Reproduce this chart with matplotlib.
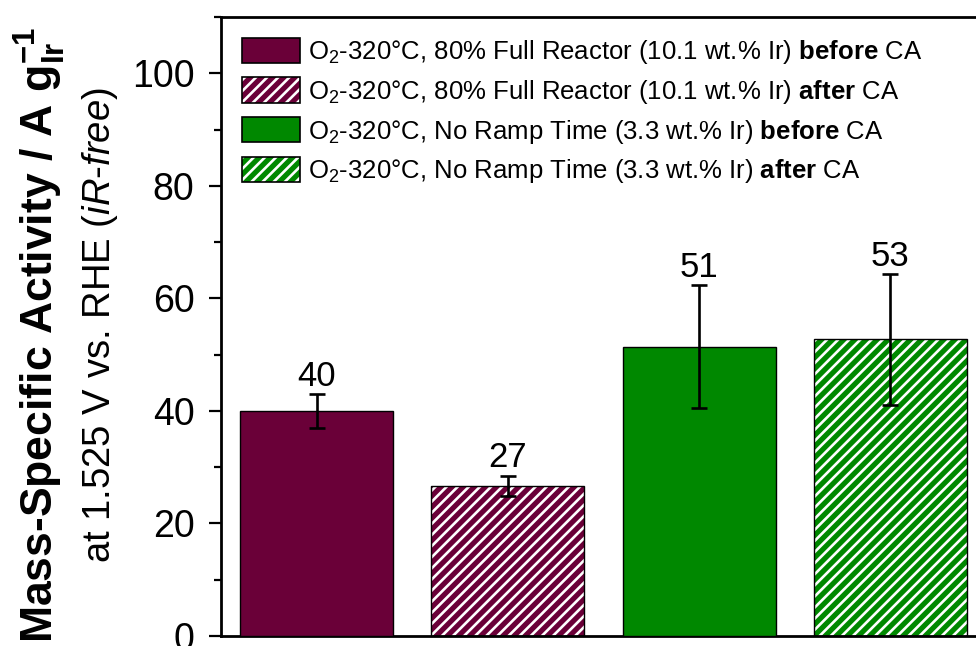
import matplotlib
matplotlib.use("Agg")
import matplotlib.pyplot as plt
import matplotlib.patches as mpatches
from matplotlib.legend_handler import HandlerTuple
from matplotlib.ticker import MultipleLocator

plt.rcParams['font.family'] = ['Liberation Sans', 'DejaVu Sans']
plt.rcParams['mathtext.fontset'] = 'custom'
plt.rcParams['mathtext.rm'] = 'Liberation Sans'
plt.rcParams['mathtext.it'] = 'Liberation Sans:italic'
plt.rcParams['mathtext.bf'] = 'Liberation Sans:bold'
plt.rcParams['hatch.linewidth'] = 1.9

# mass activity at 1.525 V vs RHE, with standard deviation
labels = [
    r'O$_2$-320°C, 80% Full Reactor (10.1 wt.% Ir) $\mathbf{before}$ CA',
    r'O$_2$-320°C, 80% Full Reactor (10.1 wt.% Ir) $\mathbf{after}$ CA',
    r'O$_2$-320°C, No Ramp Time (3.3 wt.% Ir) $\mathbf{before}$ CA',
    r'O$_2$-320°C, No Ramp Time (3.3 wt.% Ir) $\mathbf{after}$ CA',
]
activity = [40.0, 26.7, 51.4, 52.7]
activity_err = [3.0, 1.8, 10.9, 11.6]
colors = ['#6a0038', '#6a0038', '#008800', '#008800']
hatched = [False, True, False, True]

fig = plt.figure(figsize=(9.76, 6.46), dpi=100)
ax = fig.add_axes([221 / 976, 1 - 636 / 646, 765 / 976, 619 / 646])

x = [1, 2, 3, 4]
handles = []
for xi, val, err, col, hat, lab in zip(x, activity, activity_err, colors, hatched, labels):
    if hat:
        # white stripes on the coloured fill, black outline drawn on top
        ax.bar(xi, val, width=0.8, color=col, edgecolor='white', hatch='///', linewidth=0, zorder=2)
        ax.bar(xi, val, width=0.8, fill=False, edgecolor='black', linewidth=1, zorder=3)
        h = (mpatches.Patch(facecolor=col, edgecolor='white', hatch='///', linewidth=0),
             mpatches.Patch(fill=False, edgecolor='black', linewidth=1.2))
    else:
        ax.bar(xi, val, width=0.8, color=col, edgecolor='black', linewidth=1, zorder=3)
        h = mpatches.Patch(facecolor=col, edgecolor='black', linewidth=1.2)
    handles.append(h)
    ax.errorbar(xi, val, yerr=err, fmt='none', ecolor='black', elinewidth=1.9,
                capsize=5.5, capthick=1.9, zorder=4)
    ax.annotate(f'{val:.0f}', xy=(xi, val + err), xytext=(0, 6), textcoords='offset points',
                ha='center', va='baseline', fontsize=25)

ax.set_xlim(0.5, 4.5)
ax.set_ylim(0, 110)
ax.yaxis.set_major_locator(MultipleLocator(20))
ax.yaxis.set_minor_locator(MultipleLocator(10))
ax.tick_params(axis='y', which='major', direction='out', length=9, width=1.6, labelsize=27, pad=10)
ax.tick_params(axis='y', which='minor', direction='out', length=5, width=1.6)
ax.tick_params(axis='x', bottom=False, labelbottom=False)
for s in ax.spines.values():
    s.set_linewidth(2)

ax.legend(handles, labels, loc='upper left', bbox_to_anchor=(0.0, 1.0), frameon=False,
          fontsize=18.5, handlelength=2.27, handleheight=1.13, handletextpad=0.3,
          labelspacing=0.45, borderaxespad=0.5, borderpad=0.3,
          handler_map={tuple: HandlerTuple(ndivide=1, pad=0)})

fig.text(40 / 976, 1 - 335 / 646, r'Mass-Specific Activity / A g$_{\mathbf{Ir}}^{\mathbf{-1}}$',
         rotation=90, ha='center', va='center', fontsize=32, fontweight='bold')
fig.text(100 / 976, 1 - 325 / 646, r'at 1.525 V vs. RHE ($\mathit{iR}$-$\mathit{free}$)',
         rotation=90, ha='center', va='center', fontsize=27.5)

fig.savefig('out.png', dpi=100)
